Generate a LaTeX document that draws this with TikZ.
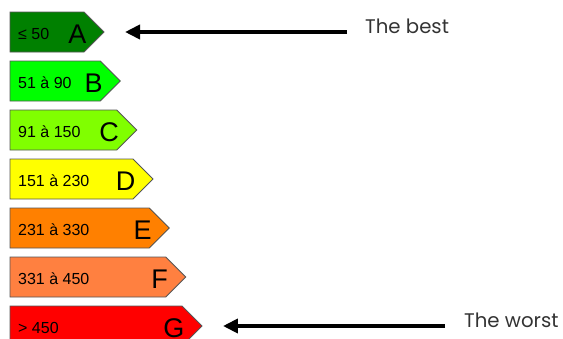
\documentclass[tikz,border=0pt]{standalone}
\usepackage{fontspec}
\setmainfont{Liberation Sans}
\newfontfamily\poppins{Poppins}
\usetikzlibrary{arrows.meta}
\definecolor{clsA}{HTML}{008000}
\definecolor{clsB}{HTML}{00FF00}
\definecolor{clsC}{HTML}{80FF00}
\definecolor{clsD}{HTML}{FFFF00}
\definecolor{clsE}{HTML}{FF8000}
\definecolor{clsF}{HTML}{FF8040}
\definecolor{clsG}{HTML}{FF0000}
\definecolor{barborder}{HTML}{555555}
\definecolor{notetext}{HTML}{333333}
\tikzset{
  barline/.style={draw=barborder, line width=0.9pt},
  rangetext/.style={inner sep=0pt, font=\fontsize{16}{18}\selectfont},
  lettertext/.style={inner sep=0pt, font=\fontsize{27}{30}\selectfont},
  notelabel/.style={inner sep=0pt, text=notetext, font=\poppins\fontsize{19.7}{22}\selectfont},
  pointer/.style={line width=4pt, -{Triangle[length=15pt,width=14pt]}},
}
\begin{document}
\begin{tikzpicture}[x=1pt,y=-1pt]
\useasboundingbox (0,0) rectangle (563,338);
% energy classes: index / letter / range / fill
\foreach \i/\L/\rng/\col in {0/A/≤ 50/clsA, 1/B/51 à 90/clsB, 2/C/91 à 150/clsC,
    3/D/151 à 230/clsD, 4/E/231 à 330/clsE, 5/F/331 à 450/clsF, 6/G/> 450/clsG}{
  \pgfmathsetmacro\t{12+49*\i}
  \pgfmathsetmacro\r{84+16.33*\i}
  \draw[barline, fill=\col] (10,\t) -- (\r,\t) -- (\r+20,\t+20) -- (\r,\t+40) -- (10,\t+40) -- cycle;
  \coordinate (tip\L) at (\r+20,\t+20);
  \node[rangetext, anchor=base west] (rng\L) at (18,\t+27.5) {\rng};
  \node[lettertext, anchor=base east] (let\L) at (\r+2.5,\t+31.5) {\L};
}
% annotations
\node[notelabel, anchor=base west] (best) at (365,33) {The best};
\node[notelabel, anchor=base west] (worst) at (464,327) {The worst};
\draw[pointer, shorten <=18pt, shorten >=21pt] (tipA -| best.west) -- (tipA);
\draw[pointer, shorten <=19pt, shorten >=21pt] (tipG -| worst.west) -- (tipG);
\end{tikzpicture}
\end{document}
